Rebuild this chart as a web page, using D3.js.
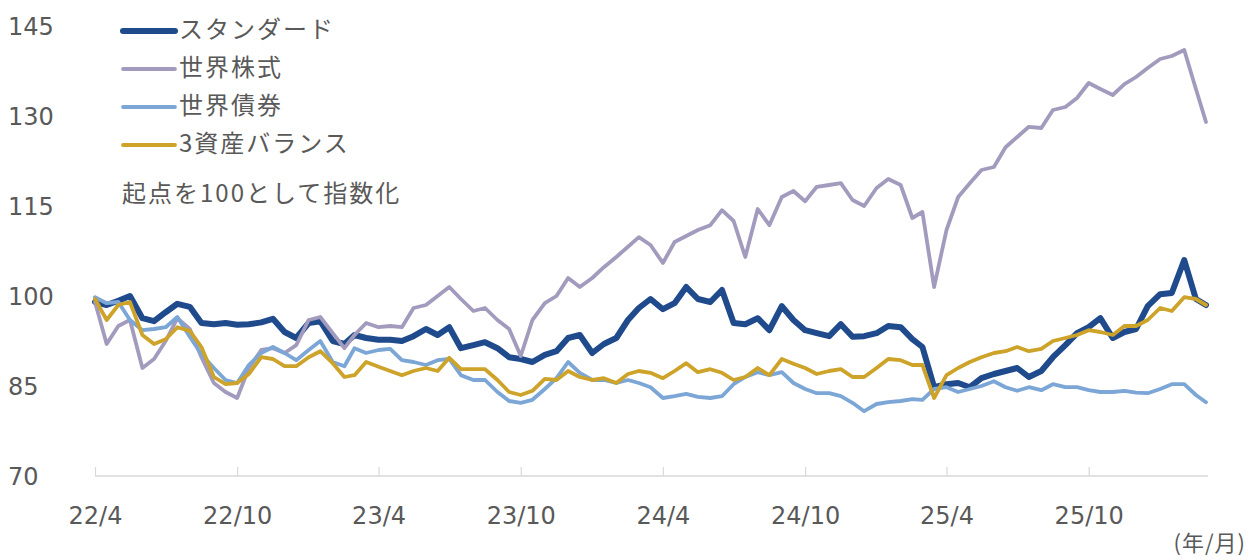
<!DOCTYPE html>
<html>
<head>
<meta charset="utf-8">
<script src="https://cdn.jsdelivr.net/npm/d3@7"></script>
<style>
  body { margin: 0; background: #fff; }
  svg { display: block; }
  text { font-family: "DejaVu Sans", "Noto Sans CJK JP", sans-serif; fill: #595959; }
  .jp { font-family: "Noto Sans CJK JP", sans-serif; letter-spacing: 2px; }
  .unit { font-family: "Noto Sans CJK JP", sans-serif; letter-spacing: 1px; }
</style>
</head>
<body>
<svg id="chart" width="1251" height="560"></svg>
<script>
// ---- data (half-monthly points from 2022/4/1) ----
const seriesNames = ["スタンダード", "世界株式", "世界債券", "3資産バランス"];

const standard = [99.0,98.5,99.2,100.0,96.3,95.8,97.3,98.7,98.2,95.5,95.3,95.5,95.2,95.3,95.6,96.2,94.0,93.0,95.5,95.8,
  92.5,92.0,93.5,93.0,92.7,92.7,92.5,93.3,94.5,93.5,94.8,91.3,91.8,92.3,91.3,89.8,89.5,89.0,90.2,90.8,
  93.0,93.5,90.5,92.0,93.0,96.0,98.0,99.5,97.8,98.8,101.5,99.5,99.0,101.0,95.5,95.3,96.3,94.3,98.3,96.0,
  94.3,93.8,93.3,95.3,93.2,93.3,93.8,95.0,94.8,92.8,91.5,84.8,85.3,85.5,84.8,86.3,87.0,87.5,88.0,86.5,
  87.5,89.8,91.8,93.8,94.8,96.3,93.0,94.0,94.5,98.3,100.3,100.5,106.0,99.5,98.5];

const equity = [99.0,92.0,95.0,96.0,88.0,89.5,92.5,96.3,94.5,89.8,85.5,84.0,83.0,88.0,91.0,91.3,90.5,91.8,96.0,96.5,
  93.8,91.3,93.5,95.5,94.8,95.0,94.8,98.0,98.5,100.0,101.5,99.5,97.5,98.0,96.0,94.5,90.0,96.0,98.8,100.0,
  103.0,101.5,103.0,104.8,106.5,108.2,109.8,108.5,105.5,109.0,110.0,111.0,111.8,114.3,112.5,106.5,114.5,111.8,116.5,117.5,
  115.8,118.2,118.5,118.8,116.0,115.0,118.0,119.5,118.5,113.0,114.0,101.5,111.0,116.5,118.8,121.0,121.5,124.8,126.5,128.2,
  128.0,131.0,131.5,133.0,135.5,134.5,133.5,135.3,136.5,138.0,139.5,140.0,141.0,134.5,129.0];

const bond = [99.8,98.8,99.0,96.0,94.3,94.5,94.8,96.5,93.2,90.3,88.0,86.0,85.5,88.5,90.5,91.5,90.5,89.3,91.0,92.5,
  89.0,88.3,91.3,90.5,91.0,91.2,89.3,89.0,88.5,89.3,89.5,86.8,86.0,86.0,84.0,82.5,82.2,82.7,84.5,86.3,
  89.0,87.2,86.0,86.0,85.5,86.0,85.5,84.8,83.0,83.3,83.7,83.2,83.0,83.3,85.3,86.5,87.3,86.8,87.3,85.5,
  84.5,83.8,83.8,83.3,82.2,80.8,82.0,82.3,82.5,82.8,82.7,84.5,84.8,84.0,84.5,85.0,85.8,84.8,84.2,84.8,
  84.3,85.3,84.8,84.8,84.3,84.0,84.0,84.2,83.9,83.8,84.5,85.3,85.3,83.5,82.3];

const balanced = [99.5,96.0,98.5,99.0,93.5,92.0,92.8,94.8,94.2,91.5,86.5,85.3,85.5,87.0,89.8,89.5,88.3,88.3,89.8,90.8,
  88.8,86.5,86.8,89.0,88.2,87.5,86.8,87.5,88.0,87.5,89.7,87.8,87.8,87.8,86.0,84.0,83.5,84.2,86.2,86.0,
  87.5,86.5,86.0,86.3,85.5,87.0,87.5,87.2,86.3,87.5,88.8,87.3,87.8,87.2,86.0,86.5,88.0,86.8,89.5,88.7,
  88.0,87.0,87.5,87.8,86.5,86.5,88.0,89.5,89.3,88.5,88.5,83.0,86.8,88.0,89.0,89.8,90.5,90.8,91.5,90.8,
  91.2,92.5,93.0,93.5,94.3,94.0,93.5,95.0,95.0,96.0,98.0,97.5,99.8,99.5,98.5];

const yTicks = [70, 85, 100, 115, 130, 145];
const xTickLabels = ["22/4", "22/10", "23/4", "23/10", "24/4", "24/10", "25/4", "25/10"];
const note = "起点を100として指数化";
const unitLabel = "(年/月)";

// ---- setup ----
const colors = ["#1F4A8C", "#A39BBE", "#7BA6D5", "#CDA32A"];
const widths = [6, 3.8, 3.8, 3.8];
const allSeries = [standard, equity, bond, balanced];

const dates = standard.map((_, i) => new Date(2022, 3 + Math.floor(i / 2), i % 2 ? 16 : 1));

const svg = d3.select("#chart");
const x = d3.scaleTime().domain([new Date(2022, 3, 1), new Date(2026, 2, 1)]).range([95, 1206]);
const y = d3.scaleLinear().domain([70, 145]).range([476, 26]);

// y labels
svg.append("g").selectAll("text").data(yTicks).join("text")
  .attr("x", 8).attr("y", d => y(d)).attr("dy", "0.36em")
  .attr("font-size", 24).text(d => d);

// x axis
const tickDates = xTickLabels.map(s => {
  const [yy, mm] = s.split("/").map(Number);
  return new Date(2000 + yy, mm - 1, 1);
});
const xAxis = d3.axisBottom(x).tickValues(tickDates)
  .tickFormat((d, i) => xTickLabels[i]).tickSize(-9).tickPadding(31);
const gx = svg.append("g").attr("transform", "translate(0,476)").call(xAxis);
gx.select(".domain").remove();
gx.selectAll(".tick line").attr("stroke", "#d9d9d9").attr("stroke-width", 1.2);
gx.selectAll(".tick text").attr("font-size", 24).attr("fill", "#595959")
  .style("font-family", "'DejaVu Sans', sans-serif");
gx.append("line").attr("x1", 95).attr("x2", 1208).attr("y1", 0).attr("y2", 0)
  .attr("stroke", "#d9d9d9").attr("stroke-width", 1.5);

// lines
const line = d3.line().x((d, i) => x(dates[i])).y(d => y(d)).curve(d3.curveLinear);
svg.append("g").selectAll("path").data(allSeries).join("path")
  .attr("d", d => line(d))
  .attr("fill", "none")
  .attr("stroke", (d, i) => colors[i])
  .attr("stroke-width", (d, i) => widths[i])
  .attr("stroke-linejoin", "round")
  .attr("stroke-linecap", "round");

// legend
const legendY = [31, 69, 107, 145];
const lg = svg.append("g");
seriesNames.forEach((name, i) => {
  lg.append("line").attr("x1", 123).attr("x2", 175).attr("y1", legendY[i]).attr("y2", legendY[i])
    .attr("stroke", colors[i]).attr("stroke-width", i === 0 ? 6 : 3.8).attr("stroke-linecap", "round");
  lg.append("text").attr("class", "jp").attr("x", 179).attr("y", legendY[i] - 2).attr("dy", "0.36em")
    .attr("font-size", 24).text(name);
});
svg.append("text").attr("class", "jp").attr("x", 122).attr("y", 193).attr("dy", "0.36em")
  .attr("font-size", 24).text(note);
svg.append("text").attr("class", "unit").attr("x", 1246).attr("y", 543).attr("dy", "0.36em")
  .attr("text-anchor", "end").attr("font-size", 22).text(unitLabel);
</script>
</body>
</html>
